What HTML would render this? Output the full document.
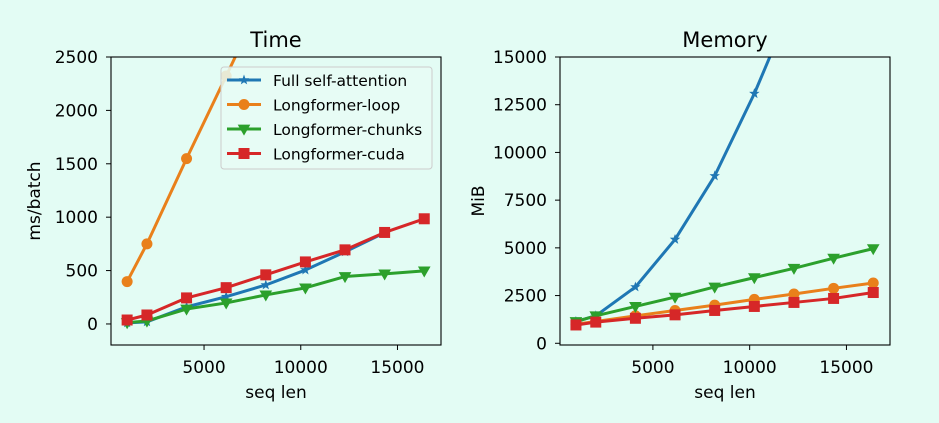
<!DOCTYPE html>
<html><head><meta charset="utf-8">
<style>
html,body{margin:0;padding:0;background:#e3fcf4;}
svg{display:block;font-family:"DejaVu Sans","Liberation Sans",sans-serif;}
</style></head>
<body>
<svg id="chart" width="939" height="423" viewBox="0 0 939 423" xmlns="http://www.w3.org/2000/svg">
<rect x="0" y="0" width="939" height="423" fill="#e3fcf4"/>
</svg>
<script>
const seqLens = [1024,2048,4096,6144,8192,10240,12288,14336,16384];
const timeFull = [10,20,160,255,365,505,675,855];
const timeLoop = [397,750,1548,2322,3100];
const timeChunks = [12,28,140,197,272,338,444,469,497];
const timeCuda = [37,84,244,340,460,581,694,857,985];
const memFull = [1140,1440,2950,5440,8770,13080,18000];
const memLoop = [1000,1140,1440,1720,2000,2300,2580,2880,3160];
const memChunks = [1140,1440,1930,2420,2950,3440,3930,4460,4960];
const memCuda = [960,1110,1310,1490,1720,1930,2140,2350,2660];
const xTicks = [5000,10000,15000];
const timeTicks = [0,500,1000,1500,2000,2500];
const memTicks = [0,2500,5000,7500,10000,12500,15000];
const seriesNames = ["Full self-attention","Longformer-loop","Longformer-chunks","Longformer-cuda"];

const NS="http://www.w3.org/2000/svg";
const svg=document.getElementById('chart');
const colors=["#1f77b4","#e9801b","#2ca02c","#d62728"];
const markers=["star","circle","tri","square"];
function mk(tag,attrs,parent){const e=document.createElementNS(NS,tag);for(const k in attrs)e.setAttribute(k,attrs[k]);(parent||svg).appendChild(e);return e;}
function marker(g,type,x,y,c,s){
  if(type==="circle")return mk('circle',{cx:x,cy:y,r:s,fill:c},g);
  if(type==="square")return mk('rect',{x:x-s,y:y-s,width:2*s,height:2*s,fill:c},g);
  if(type==="tri")return mk('polygon',{points:`${x-s*1.15},${y-s*0.8} ${x+s*1.15},${y-s*0.8} ${x},${y+s*1.2}`,fill:c},g);
  let p=[];for(let i=0;i<10;i++){const r=i%2?s*0.45:s*1.1;const a=-Math.PI/2+i*Math.PI/5;p.push((x+r*Math.cos(a)).toFixed(1)+","+(y+r*Math.sin(a)).toFixed(1));}
  return mk('polygon',{points:p.join(' '),fill:c},g);
}
function drawPanel(opt){
  const {left,right,top,bottom,xmin,xmax,ymin,ymax,yticks,series,title,ylabel,name,ylabelX}=opt;
  const sx=v=>left+(v-xmin)/(xmax-xmin)*(right-left);
  const sy=v=>bottom-(v-ymin)/(ymax-ymin)*(bottom-top);
  const g=mk('g',{});
  
  
  const clipId=name+'-clip';
  const cp=mk('clipPath',{id:clipId},g);mk('rect',{x:left,y:top,width:right-left,height:bottom-top},cp);
  const plot=mk('g',{'clip-path':`url(#${clipId})`},g);
  series.forEach((vals,i)=>{
    const sg=mk('g',{},plot);
    
    
    const pts=vals.map((v,j)=>[sx(seqLens[j]),sy(v)]);
    mk('polyline',{points:pts.map(p=>p.join(',')).join(' '),fill:'none',stroke:colors[i],'stroke-width':3,'stroke-linejoin':'round'},sg);
    pts.forEach(p=>marker(sg,markers[i],p[0],p[1],colors[i],markers[i]==="star"?5:5.5));
  });
  mk('rect',{x:left,y:top,width:right-left,height:bottom-top,fill:'none',stroke:'#000','stroke-width':1.1},g);
  xTicks.forEach(t=>{const x=sx(t);
    mk('line',{x1:x,x2:x,y1:bottom,y2:bottom+5,stroke:'#000'},g);
    const tx=mk('text',{x:x,y:bottom+28,'text-anchor':'middle','font-size':17,fill:'#000'},g);tx.textContent=t;
    });
  yticks.forEach(t=>{const y=sy(t);
    mk('line',{x1:left-5,x2:left,y1:y,y2:y,stroke:'#000'},g);
    const tx=mk('text',{x:left-13,y:y+6,'text-anchor':'end','font-size':17,fill:'#000'},g);tx.textContent=t;
    });
  const tt=mk('text',{x:(left+right)/2,y:top-10,'text-anchor':'middle','font-size':21,fill:'#000'},g);tt.textContent=title;
  
  const xl=mk('text',{x:(left+right)/2,y:bottom+53,'text-anchor':'middle','font-size':17,fill:'#000'},g);xl.textContent='seq len';
  
  const yl=mk('text',{x:ylabelX,y:(top+bottom)/2,'text-anchor':'middle','font-size':17,fill:'#000',transform:`rotate(-90 ${ylabelX} ${(top+bottom)/2})`},g);yl.textContent=ylabel;
  
}
drawPanel({left:111,right:441,top:57,bottom:345,xmin:190,xmax:17250,ymin:-197,ymax:2500,yticks:timeTicks,
  series:[timeFull,timeLoop,timeChunks,timeCuda],title:'Time',ylabel:'ms/batch',name:'time',ylabelX:40});
drawPanel({left:560,right:890,top:57,bottom:345,xmin:200,xmax:17250,ymin:-90,ymax:15000,yticks:memTicks,
  series:[memFull,memLoop,memChunks,memCuda],title:'Memory',ylabel:'MiB',name:'memory',ylabelX:484});
// legend
const lg=mk('g',{});


mk('rect',{x:221,y:67,width:211,height:102,rx:3,fill:'#e8fbf4','fill-opacity':0.85,stroke:'#ccc'},lg);
seriesNames.forEach((n,i)=>{const y=80+i*24.5;
  const e=mk('g',{},lg);
  
  
  mk('line',{x1:227,x2:261,y1:y,y2:y,stroke:colors[i],'stroke-width':3},e);
  marker(e,markers[i],244,y,colors[i],markers[i]==="star"?5:5.5);
  const t=mk('text',{x:273,y:y+6,'font-size':15.5,fill:'#000'},e);t.textContent=n;});
</script>
</body></html>
